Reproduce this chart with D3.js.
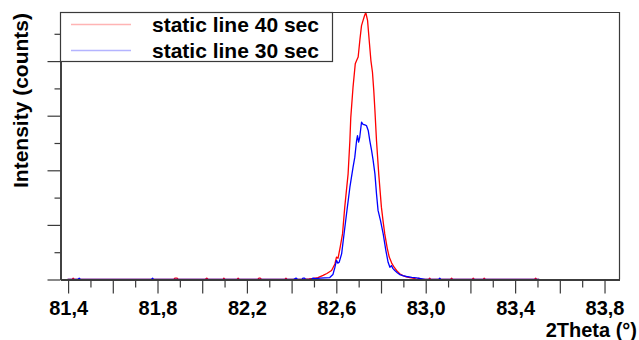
<!DOCTYPE html>
<html>
<head>
<meta charset="utf-8">
<script src="https://cdn.jsdelivr.net/npm/d3@7"></script>
<style>
    body { margin: 0; background: #fff; }
    svg { display: block; font-family: "Liberation Sans", Arial, sans-serif; }
</style>
</head>
<body>
<svg id="chart" width="639" height="340"></svg>
<script>
// 2Theta values and counts
const theta40 = [81.400, 81.420, 81.425, 81.430, 81.875, 81.880, 81.890, 81.895, 82.015, 82.022, 82.030,
    82.095, 82.099, 82.105, 82.158, 82.163, 82.168, 82.250, 82.256, 82.262, 82.268, 82.372, 82.377, 82.382,
    82.450, 82.480, 82.500, 82.520, 82.543, 82.560, 82.581, 82.596, 82.603, 82.610, 82.620, 82.630, 82.640,
    82.655, 82.663, 82.667, 82.677, 82.687, 82.693, 82.700, 82.708, 82.715, 82.722, 82.728, 82.734, 82.742,
    82.750, 82.757, 82.764, 82.770, 82.775, 82.782, 82.792, 82.804, 82.812, 82.819, 82.830, 82.839, 82.850,
    82.861, 82.875, 82.886, 82.900, 82.915, 82.931, 82.950, 82.965, 82.971, 82.980, 83.015, 83.020, 83.025,
    83.113, 83.118, 83.123, 83.210, 83.215, 83.220, 83.259, 83.264, 83.269, 83.489, 83.494, 83.499, 83.510];
const counts40 = [0, 0, 5, 0, 0, 5, 5, 0, 0, 5, 0,
    0, 5, 0, 0, 5, 0, 0, 5, 5, 0, 0, 5, 0,
    0, 2, 4, 7, 15, 22, 33, 57, 82, 78, 120, 167, 265,
    387, 509, 594, 704, 790, 802, 815, 880, 930, 949, 965, 978, 949,
    870, 802, 759, 690, 619, 509, 387, 265, 210, 167, 115, 82, 60,
    45, 30, 21, 14, 10, 7, 4, 0, 5, 0, 0, 5, 0,
    0, 5, 0, 0, 5, 0, 0, 5, 0, 0, 5, 0, 0];

const theta30 = [81.400, 81.445, 81.452, 81.458, 81.775, 81.780, 81.785, 82.410, 82.422, 82.430, 82.448,
    82.453, 82.460, 82.465, 82.490, 82.498, 82.510, 82.530, 82.550, 82.573, 82.587, 82.596, 82.603, 82.609,
    82.615, 82.626, 82.636, 82.648, 82.663, 82.677, 82.685, 82.693, 82.697, 82.702, 82.707, 82.715, 82.722,
    82.730, 82.737, 82.745, 82.752, 82.760, 82.767, 82.775, 82.782, 82.789, 82.800, 82.812, 82.824, 82.834,
    82.842, 82.849, 82.856, 82.864, 82.875, 82.886, 82.900, 82.916, 82.940, 82.961, 82.980, 83.000, 83.060,
    83.065, 83.070, 83.510];
const counts30 = [0, 0, 5, 0, 0, 5, 0, 0, 5, 0, 0,
    5, 5, 0, 0, 5, 3, 5, 6, 7, 18, 45, 70, 60,
    63, 94, 161, 241, 338, 411, 448, 509, 527, 503, 521, 576, 568,
    566, 564, 546, 509, 473, 436, 387, 314, 253, 216, 167, 106, 63,
    45, 51, 40, 33, 25, 18, 14, 11, 8, 6, 3, 0, 0,
    5, 0, 0];

const seriesNames = ["static line 40 sec", "static line 30 sec"];
const xLabelTicks = [81.4, 81.8, 82.2, 82.6, 83.0, 83.4, 83.8];
const xMajorTicks = [81.6, 82.0, 82.4, 82.8, 83.2, 83.6];
const xMinorTicks = [81.5, 81.7, 81.9, 82.1, 82.3, 82.5, 82.7, 82.9, 83.1, 83.3, 83.5, 83.7];
const yMajorTicks = [0, 200, 400, 600, 800];
const yMinorTicks = [100, 300, 500, 700, 900];

const svg = d3.select("#chart");
const plotLeft = 60, plotRight = 619, plotTop = 12, plotBottom = 279;
const frameColor = "#3a3a3a";

const x = d3.scaleLinear().domain([81.366, 83.867]).range([plotLeft, plotRight]);
const y = d3.scaleLinear().domain([0, 978]).range([plotBottom + 0.5, plotTop + 0.5]);

const series = [
    {name: seriesNames[0], color: "#ff0000", light: "#ffb4b4", xs: theta40, ys: counts40},
    {name: seriesNames[1], color: "#0000ff", light: "#b4b4ff", xs: theta30, ys: counts30}
];

// data lines first, the frame goes on top of the baseline
const line = d3.line()
    .x(function (d) { return x(d[0]); })
    .y(function (d) { return y(d[1]); });

series.forEach(function (s) {
    svg.append("path")
        .datum(d3.zip(s.xs, s.ys))
        .attr("fill", "none")
        .attr("stroke", s.color)
        .attr("stroke-width", 1.3)
        .attr("stroke-linejoin", "round")
        .attr("d", line);
});

// frame top and right
svg.append("path")
    .attr("d", "M" + (plotLeft + 0.5) + "," + (plotTop + 0.5) + "H" + (plotRight + 0.5) + "V" + (plotBottom + 0.5))
    .attr("fill", "none")
    .attr("stroke", frameColor)
    .attr("stroke-width", 1.2);

// axes
function addAxis(axis, transform) {
    const g = svg.append("g")
        .attr("transform", transform)
        .call(axis);
    g.select(".domain").attr("stroke", frameColor).attr("stroke-width", 1.6);
    g.selectAll(".tick line").attr("stroke", frameColor).attr("stroke-width", 1.2);
    return g;
}

addAxis(d3.axisLeft(y).tickValues(yMajorTicks).tickSize(13).tickSizeOuter(0).tickFormat(""),
    "translate(" + (plotLeft + 0.5) + ",0)");
addAxis(d3.axisLeft(y).tickValues(yMinorTicks).tickSize(6).tickSizeOuter(0).tickFormat(""),
    "translate(" + (plotLeft + 0.5) + ",0)");

const xLab = addAxis(d3.axisBottom(x).tickValues(xLabelTicks).tickSize(14).tickSizeOuter(0)
        .tickFormat(function (d) { return d3.format(".1f")(d).replace(".", ","); }),
    "translate(0.5," + (plotBottom + 0.5) + ")");
xLab.selectAll(".tick text")
    .attr("y", 35)
    .attr("dy", 0)
    .attr("fill", "#000")
    .style("font-family", "'Liberation Sans', Arial, sans-serif")
    .style("font-weight", "bold")
    .style("font-size", "20px");
addAxis(d3.axisBottom(x).tickValues(xMajorTicks).tickSize(14).tickSizeOuter(0).tickFormat(""),
    "translate(0.5," + (plotBottom + 0.5) + ")");
addAxis(d3.axisBottom(x).tickValues(xMinorTicks).tickSize(8).tickSizeOuter(0).tickFormat(""),
    "translate(0.5," + (plotBottom + 0.5) + ")");

// axis titles
svg.append("text")
    .attr("transform", "translate(28,100.5) rotate(-90)")
    .attr("text-anchor", "middle")
    .style("font-weight", "bold")
    .style("font-size", "21px")
    .text("Intensity (counts)");

svg.append("text")
    .attr("x", 637)
    .attr("y", 337)
    .attr("text-anchor", "end")
    .style("font-weight", "bold")
    .style("font-size", "20px")
    .text("2Theta (°)");

// legend
svg.append("rect")
    .attr("x", plotLeft + 0.5)
    .attr("y", plotTop + 0.5)
    .attr("width", 272)
    .attr("height", 49)
    .attr("fill", "#fff")
    .attr("stroke", frameColor)
    .attr("stroke-width", 1.2);

const item = svg.selectAll("g.legend-item")
    .data(series)
    .enter()
    .append("g")
    .attr("class", "legend-item")
    .attr("transform", function (d, i) { return "translate(0," + (24.5 + i * 26) + ")"; });

item.append("line")
    .attr("x1", 71)
    .attr("x2", 131)
    .attr("stroke", function (d) { return d.light; })
    .attr("stroke-width", 1.5);

item.append("text")
    .attr("x", 152)
    .attr("y", 7.5)
    .style("font-weight", "bold")
    .style("font-size", "21px")
    .text(function (d) { return d.name; });
</script>
</body>
</html>
